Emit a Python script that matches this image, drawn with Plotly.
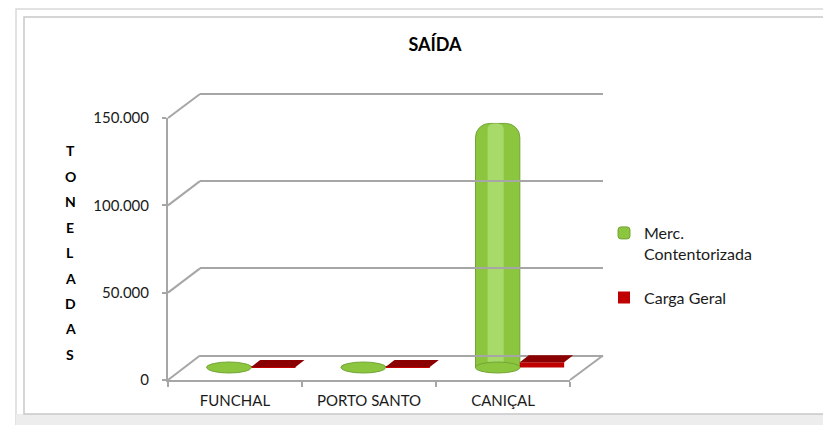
import plotly.graph_objects as go

# ---- data ----
categories = ["FUNCHAL", "PORTO SANTO", "CANIÇAL"]
merc_contentorizada = [1200, 1300, 140000]
carga_geral = [300, 350, 3000]
series_names = ["Merc.<br>Contentorizada", "Carga Geral"]
y_tickvals = [0, 50000, 100000, 150000]
y_ticktext = ["0", "50.000", "100.000", "150.000"]
title_text = "SAÍDA"
y_title = "TONELADAS"

W, H = 831, 425
OFF = 8  # page offset of the plot inside the browser window
FONT = "Lato, 'Open Sans', sans-serif"
GRID = "#a6a6a6"


def fx(x):
    return (x - OFF) / W


def fy(y):
    return 1 - (y - OFF) / H


# pixel geometry (window coordinates) of the three depth planes
YMAX = 150000
YTOP = 151500  # a little headroom so the top gridline is drawn
front = dict(x0=168, x1=570, yb=380.0, yt=118.0)
back = dict(x0=200, x1=603, yb=355.5, yt=94.0)
mid = dict(x0=184, x1=587, yb=367.5, yt=106.0)
YLOW = -8000  # room under the baseline for cylinder bottoms
mid_scale = (mid["yb"] - mid["yt"]) / YMAX
back_scale = (back["yb"] - back["yt"]) / YMAX
mid_low_px = mid["yb"] - YLOW * mid_scale


def yfront(v):
    return front["yb"] - v * (front["yb"] - front["yt"]) / YMAX


def yback(v):
    return back["yb"] - v * back_scale


idx = list(range(len(categories)))
xr = [-0.5, len(categories) - 0.5]
unit_px = (mid["x1"] - mid["x0"]) / len(categories)
BW = 0.33

fig = go.Figure()
# empty traces so that the back and front planes get their axes drawn
fig.add_trace(go.Scatter(x=[], y=[], xaxis="x2", yaxis="y2", showlegend=False, hoverinfo="skip"))
fig.add_trace(go.Scatter(x=[], y=[], xaxis="x3", yaxis="y3", showlegend=False, hoverinfo="skip"))

fig.add_trace(go.Bar(
    x=idx, y=merc_contentorizada, name=series_names[0],
    offset=-BW, width=BW,
    marker=dict(color="#8cc63f", line=dict(color="#72a535", width=1), cornerradius=14),
    legendgroup="a", xaxis="x", yaxis="y",
))
fig.add_trace(go.Bar(
    x=idx, y=merc_contentorizada, name=series_names[0],
    offset=-0.24, width=0.12, showlegend=False, hoverinfo="skip",
    marker=dict(color="#a8da6a", line=dict(width=0), cornerradius=6),
    legendgroup="a", xaxis="x", yaxis="y",
))
fig.add_trace(go.Bar(
    x=idx, y=carga_geral, name=series_names[1],
    offset=0.0, width=BW,
    marker=dict(color="#c00000", line=dict(width=0)),
    legendgroup="b", xaxis="x", yaxis="y",
))

shapes = []
# chart frame
shapes.append(dict(type="rect", xref="paper", yref="paper", x0=fx(16), x1=1.0, y0=0.0, y1=fy(9),
                   line=dict(color="#d9d9d9", width=1.5), layer="below"))
shapes.append(dict(type="rect", xref="paper", yref="paper", x0=fx(16), x1=1.0, y0=0.0, y1=fy(414),
                   fillcolor="#ededed", line=dict(width=0), layer="below"))
shapes.append(dict(type="rect", xref="paper", yref="paper", x0=fx(24), x1=1.0, y0=fy(414), y1=fy(17),
                   fillcolor="white", line=dict(color="#c8c8c8", width=1.5), layer="below"))

# perspective connectors front -> back for each gridline
for v in y_tickvals:
    shapes.append(dict(type="line", xref="paper", yref="paper",
                       x0=fx(front["x0"]), y0=fy(yfront(v)), x1=fx(back["x0"]), y1=fy(yback(v)),
                       line=dict(color=GRID, width=2)))
shapes.append(dict(type="line", xref="paper", yref="paper",
                   x0=fx(front["x1"]), y0=fy(yfront(0)), x1=fx(back["x1"]), y1=fy(yback(0)),
                   line=dict(color=GRID, width=2)))

# cylinder bottoms (ellipses) for the green series
ry = 5.5 / mid_scale
for i, v in zip(idx, merc_contentorizada):
    shapes.append(dict(type="circle", xref="x", yref="y", x0=i - BW, x1=i, y0=-ry, y1=ry,
                       fillcolor="#8cc63f", line=dict(color="#72a535", width=1), layer="above"))
# box top faces for the red series
ddx = 9 / unit_px
ddv = 7 / mid_scale
for i, v in zip(idx, carga_geral):
    path = (f"M {i},{v} L {i + BW},{v} L {i + BW + ddx},{v + ddv} "
            f"L {i + ddx},{v + ddv} Z")
    shapes.append(dict(type="path", xref="x", yref="y", path=path,
                       fillcolor="#8b0000", line=dict(width=0), layer="above"))

annotations = []
for k, ch in enumerate(y_title):
    annotations.append(dict(text=f"<b>{ch}</b>", xref="paper", yref="paper",
                            x=fx(70), y=fy(151 + 25.4 * k), showarrow=False,
                            xanchor="center", yanchor="middle",
                            font=dict(family=FONT, size=14, color="#000000")))

fig.update_layout(
    template="none",
    width=W, height=H,
    margin=dict(l=0, r=0, t=0, b=0, pad=0, autoexpand=False),
    paper_bgcolor="white", plot_bgcolor="rgba(0,0,0,0)",
    barmode="overlay",
    showlegend=True,
    title=dict(text=f"<b>{title_text}</b>", x=fx(435), y=fy(45), xanchor="center", yanchor="middle",
               xref="paper", yref="paper", automargin=False,
               font=dict(family=FONT, size=18, color="#000000")),
    legend=dict(x=fx(604), y=fy(216), xanchor="left", yanchor="top",
                traceorder="grouped", tracegroupgap=20, valign="top",
                font=dict(family=FONT, size=16, color="#1a1a1a"),
                bgcolor="rgba(0,0,0,0)", borderwidth=0),
    shapes=shapes,
    annotations=annotations,
    # middle plane (bars)
    xaxis=dict(domain=[fx(mid["x0"]), fx(mid["x1"])], range=xr, visible=False, anchor="y",
               automargin=False, fixedrange=True),
    yaxis=dict(domain=[fy(mid_low_px), fy(mid["yt"])], range=[YLOW, YMAX], visible=False, anchor="x",
               automargin=False, fixedrange=True),
    # back plane (gridlines)
    xaxis2=dict(domain=[fx(back["x0"]), fx(back["x1"])], range=xr, visible=False, anchor="y2",
                automargin=False),
    yaxis2=dict(domain=[fy(back["yb"]), fy(back["yb"] - YTOP * back_scale)], range=[0, YTOP], anchor="x2",
                showgrid=True, gridcolor=GRID, gridwidth=2, tickvals=y_tickvals,
                showticklabels=False, zeroline=True, zerolinecolor=GRID, zerolinewidth=2,
                showline=False, ticks="", automargin=False),
    # front plane (axis lines and labels)
    xaxis3=dict(domain=[fx(front["x0"]), fx(front["x1"])], range=xr, anchor="y3",
                tickvals=idx, ticktext=categories, ticks="", showgrid=False, zeroline=False,
                showline=True, linecolor=GRID, linewidth=2, automargin=False,
                minor=dict(tickvals=[i - 0.5 for i in idx] + [idx[-1] + 0.5], ticks="outside",
                           ticklen=5, tickwidth=2, tickcolor=GRID, showgrid=False),
                tickfont=dict(family=FONT, size=15, color="#1a1a1a"), ticklabelstandoff=6),
    yaxis3=dict(domain=[fy(front["yb"]), fy(front["yt"])], range=[0, YMAX], anchor="x3",
                tickvals=y_tickvals, ticktext=y_ticktext, ticks="outside", ticklen=4, tickwidth=2,
                tickcolor=GRID, showgrid=False, zeroline=False, showline=True, linecolor=GRID,
                linewidth=2, automargin=False, tickfont=dict(family=FONT, size=15, color="#1a1a1a"),
                ticklabelstandoff=10),
)

fig.write_html("out.html")
